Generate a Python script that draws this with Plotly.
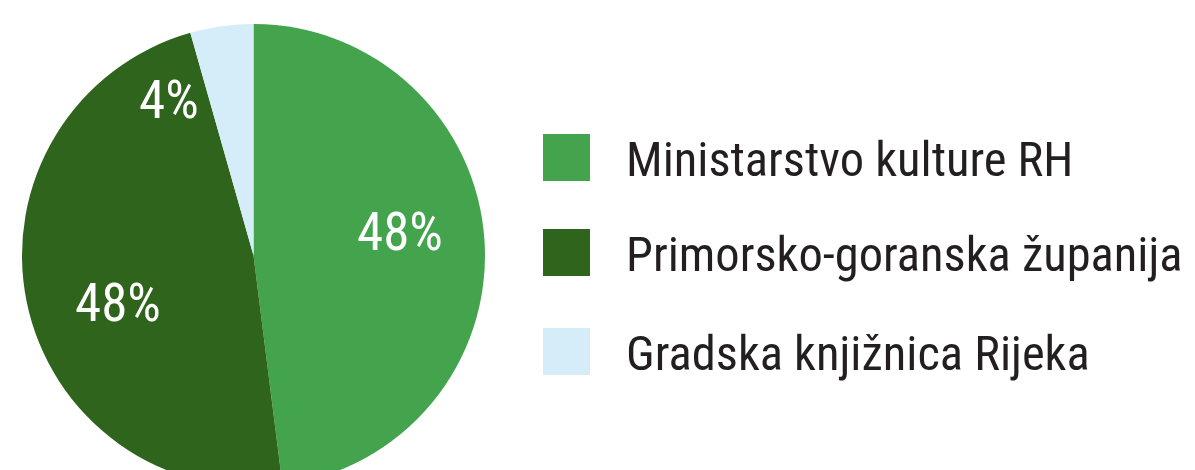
import math
import plotly.graph_objects as go

categories = ["Ministarstvo kulture RH", "Primorsko-goranska županija", "Gradska knjižnica Rijeka"]
values = [48.0, 47.6, 4.4]
colors = ["#43A44D", "#2F641D", "#D5ECF9"]

FONT = "'Roboto Condensed', 'Liberation Sans Narrow', 'Arial Narrow', 'DejaVu Sans Condensed', sans-serif"

# page offset (browser body margin) and figure size
OFF = 8
W, H = 1187, 479
CX, CY, R = 253.5 - OFF, 255.5 - OFF, 231.5   # pie centre / radius in figure px


def px(x):
    return x / W


def py(y):
    return 1 - y / H


fig = go.Figure(go.Pie(
    labels=categories,
    values=values,
    marker=dict(colors=colors, line=dict(width=0)),
    sort=False,
    direction="clockwise",
    rotation=0,
    textinfo="none",
    showlegend=False,
    hoverinfo="label+percent",
    domain=dict(x=[px(CX - R), px(CX + R)], y=[py(CY + R), py(CY - R)]),
))

shapes, annotations = [], []

# percentage labels, placed relative to each slice's mid-angle
tot = sum(values)
label_shift_deg = [-5.5, -8.0, -20.6]
label_rad = [0.64, 0.62, 0.765]
cum = 0.0
for v, dth, rf in zip(values, label_shift_deg, label_rad):
    mid = (cum + v / 2) / tot * 360 + dth
    cum += v
    a = math.radians(mid)
    lx = CX + R * rf * math.sin(a)
    ly = CY - R * rf * math.cos(a)
    annotations.append(dict(text=f"{round(v / tot * 100)}%", xref="paper", yref="paper",
                            x=px(lx), y=py(ly), xanchor="center", yanchor="middle",
                            showarrow=False, font=dict(family=FONT, size=53, color="white")))

# custom legend built from the category/color arrays
sq_top = [134 - OFF, 229 - OFF, 328 - OFF]
for name, col, top in zip(categories, colors, sq_top):
    shapes.append(dict(type="rect", xref="paper", yref="paper",
                       x0=px(543 - OFF), x1=px(590 - OFF), y0=py(top + 47), y1=py(top),
                       fillcolor=col, line=dict(width=0)))
    annotations.append(dict(text=name, xref="paper", yref="paper",
                            x=px(624 - OFF), y=py(top + 25.5), xanchor="left", yanchor="middle",
                            showarrow=False, font=dict(family=FONT, size=48.5, color="#231F20")))

fig.update_layout(
    width=W, height=H,
    margin=dict(l=0, r=0, t=0, b=0),
    paper_bgcolor="white", plot_bgcolor="white",
    shapes=shapes, annotations=annotations,
)
fig.write_html("out.html")
